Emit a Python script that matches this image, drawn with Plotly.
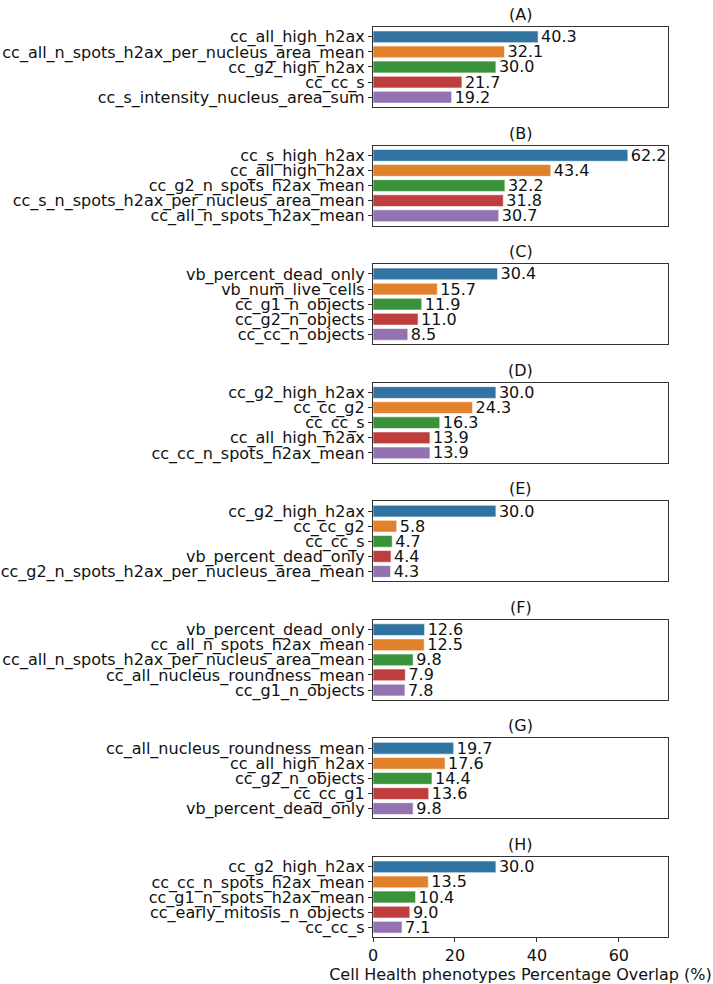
import plotly.graph_objects as go
from plotly.subplots import make_subplots

panel_titles = ["(A)", "(B)", "(C)", "(D)", "(E)", "(F)", "(G)", "(H)"]

labels_A = ["cc_all_high_h2ax", "cc_all_n_spots_h2ax_per_nucleus_area_mean", "cc_g2_high_h2ax", "cc_cc_s", "cc_s_intensity_nucleus_area_sum"]
values_A = [40.3, 32.1, 30.0, 21.7, 19.2]

labels_B = ["cc_s_high_h2ax", "cc_all_high_h2ax", "cc_g2_n_spots_h2ax_mean", "cc_s_n_spots_h2ax_per_nucleus_area_mean", "cc_all_n_spots_h2ax_mean"]
values_B = [62.2, 43.4, 32.2, 31.8, 30.7]

labels_C = ["vb_percent_dead_only", "vb_num_live_cells", "cc_g1_n_objects", "cc_g2_n_objects", "cc_cc_n_objects"]
values_C = [30.4, 15.7, 11.9, 11.0, 8.5]

labels_D = ["cc_g2_high_h2ax", "cc_cc_g2", "cc_cc_s", "cc_all_high_h2ax", "cc_cc_n_spots_h2ax_mean"]
values_D = [30.0, 24.3, 16.3, 13.9, 13.9]

labels_E = ["cc_g2_high_h2ax", "cc_cc_g2", "cc_cc_s", "vb_percent_dead_only", "cc_g2_n_spots_h2ax_per_nucleus_area_mean"]
values_E = [30.0, 5.8, 4.7, 4.4, 4.3]

labels_F = ["vb_percent_dead_only", "cc_all_n_spots_h2ax_mean", "cc_all_n_spots_h2ax_per_nucleus_area_mean", "cc_all_nucleus_roundness_mean", "cc_g1_n_objects"]
values_F = [12.6, 12.5, 9.8, 7.9, 7.8]

labels_G = ["cc_all_nucleus_roundness_mean", "cc_all_high_h2ax", "cc_g2_n_objects", "cc_cc_g1", "vb_percent_dead_only"]
values_G = [19.7, 17.6, 14.4, 13.6, 9.8]

labels_H = ["cc_g2_high_h2ax", "cc_cc_n_spots_h2ax_mean", "cc_g1_n_spots_h2ax_mean", "cc_early_mitosis_n_objects", "cc_cc_s"]
values_H = [30.0, 13.5, 10.4, 9.0, 7.1]

x_ticks = [0, 20, 40, 60]
x_title = "Cell Health phenotypes Percentage Overlap (%)"

colors = ["#3274a1", "#e1812c", "#3a923a", "#c03d3e", "#9372b2"]

panels = [(labels_A, values_A), (labels_B, values_B), (labels_C, values_C), (labels_D, values_D),
          (labels_E, values_E), (labels_F, values_F), (labels_G, values_G), (labels_H, values_H)]

FONT = "DejaVu Sans"
TXT = "#111111"
FRAME = "#333333"

fig = make_subplots(rows=8, cols=1, vertical_spacing=0.0424)

for i, (labs, vals) in enumerate(panels):
    r = i + 1
    fig.add_trace(go.Bar(
        x=vals, y=list(range(len(labs))), orientation="h",
        marker=dict(color=colors, line=dict(color="white", width=0.6)),
        width=0.78,
        text=[f"{v:.1f}" for v in vals], textposition="outside",
        textfont=dict(family=FONT, size=16, color=TXT),
        cliponaxis=False, constraintext="none", showlegend=False,
    ), row=r, col=1)
    fig.update_yaxes(
        tickmode="array", tickvals=list(range(len(labs))), ticktext=labs,
        range=[len(labs) - 0.5 + 0.15, -0.5 - 0.15],
        ticks="outside", ticklen=4, tickcolor=FRAME, tickwidth=1,
        showline=True, mirror=True, linecolor=FRAME, linewidth=1.2,
        showgrid=False, zeroline=False,
        tickfont=dict(family=FONT, size=16, color=TXT),
        row=r, col=1)
    last = (r == 8)
    fig.update_xaxes(
        range=[0, 72], tickmode="array", tickvals=x_ticks,
        showticklabels=last, ticks="outside" if last else "", ticklen=4,
        tickcolor=FRAME, tickwidth=1,
        showline=True, mirror=True, linecolor=FRAME, linewidth=1.2,
        showgrid=False, zeroline=False,
        tickfont=dict(family=FONT, size=16, color=TXT),
        row=r, col=1)
    ydom = fig.layout["yaxis" + ("" if r == 1 else str(r))].domain
    fig.add_annotation(
        text=panel_titles[i], x=0.5, xref="paper", xanchor="center",
        y=ydom[1], yref="paper", yanchor="bottom", yshift=1, showarrow=False,
        font=dict(family=FONT, size=16, color=TXT))

fig.update_xaxes(title=dict(text=x_title, font=dict(family=FONT, size=16, color=TXT), standoff=2), row=8, col=1)

fig.update_layout(
    width=713, height=984,
    margin=dict(l=373, r=45, t=27, b=47, autoexpand=False),
    paper_bgcolor="white", plot_bgcolor="white",
    bargap=0.2,
    font=dict(family=FONT, size=16, color=TXT),
)

fig.write_html("out.html", config={"displayModeBar": False},
               post_script="document.body.style.margin='0px';document.body.style.padding='0px';")
